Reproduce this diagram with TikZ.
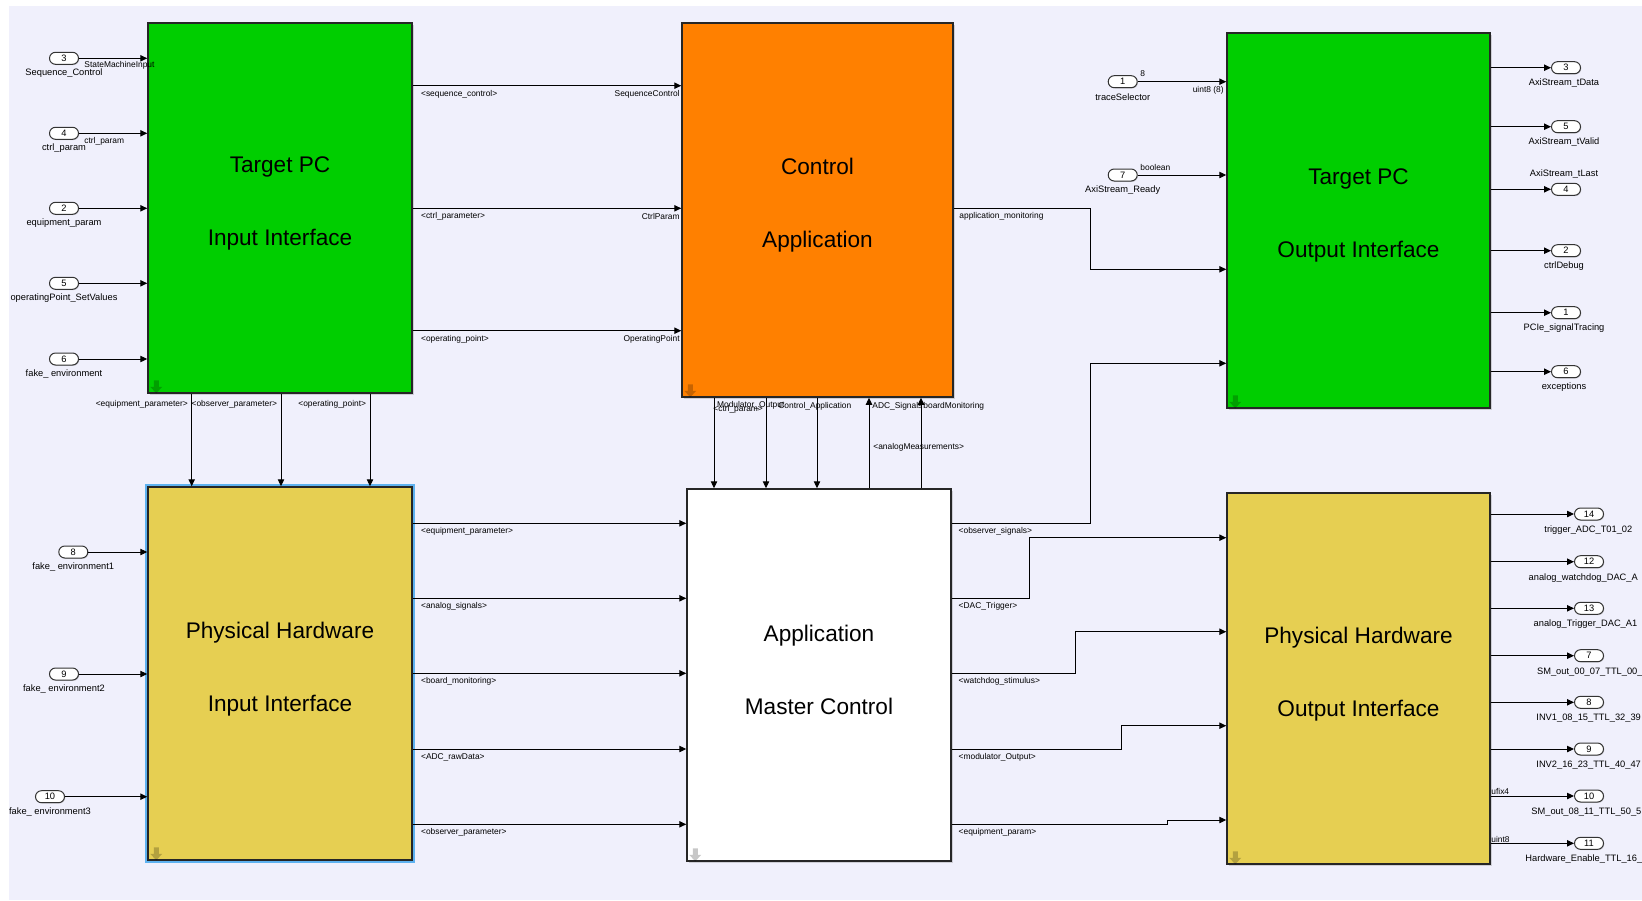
\documentclass[tikz,border=0pt]{standalone}
\usepackage{fontspec}
\setmainfont{Liberation Sans}
\usetikzlibrary{arrows.meta,calc,shadows}
\definecolor{canvas}{RGB}{240,240,252}
\definecolor{tpgreen}{RGB}{0,206,0}
\definecolor{caorange}{RGB}{255,128,0}
\definecolor{hwyellow}{RGB}{230,207,82}
\definecolor{selblue}{RGB}{94,178,240}
\tikzset{
  blk/.style     = {draw=black!85, line width=0.75pt, inner sep=0pt,
                    drop shadow={shadow xshift=1pt,shadow yshift=-1pt,opacity=.3}},
  blktxt/.style  = {align=center, font=\fontsize{11.3}{36.5}\selectfont, yshift=2.4pt},
  sig/.style     = {line width=0.5pt, -{Triangle[length=3.5pt,width=3.2pt]}},
  inport/.style  = {draw=black!80, fill=white, rounded corners=3pt, line width=0.5pt,
                    minimum width=14.5pt, minimum height=6pt, inner sep=0pt,
                    font=\fontsize{4.65}{5}\selectfont,
                    drop shadow={shadow xshift=0.4pt,shadow yshift=-0.4pt,opacity=.35}},
  portlab/.style = {inner sep=0pt, font=\fontsize{4.65}{5}\selectfont},
  siglab/.style  = {inner sep=0pt, font=\fontsize{4.2}{5}\selectfont},
  ssicon/.pic    = {\fill[black,fill opacity=.22] (-2.5,-6.5) -- (2.5,-6.5) -- (2.5,0) -- (6,0)
                    -- (0,6.5) -- (-6,0) -- (-2.5,0) -- cycle;},
}
\begin{document}
\begin{tikzpicture}[x=0.5pt,y=-0.5pt]
  \useasboundingbox (0,0) rectangle (1642,900);
  \clip (0,0) rectangle (1642,900);
  \fill[white] (0,0) rectangle (1642,900);
  \fill[canvas] (9,6) rectangle (1642,900);

  % blocks
  \node[blk, fill=tpgreen, minimum width=132pt, minimum height=185pt,
        label={[blktxt,yshift=-0.3pt]center:{Target PC\\Input Interface}}] (tpi) at (280,208) {};
  \node[blk, fill=caorange, minimum width=135.5pt, minimum height=187pt,
        label={[blktxt]center:{Control\\Application}}] (ca) at (817.5,210) {};
  \node[blk, fill=tpgreen, minimum width=131.5pt, minimum height=187.5pt,
        label={[blktxt]center:{Target PC\\Output Interface}}] (tpo) at (1358.5,220.5) {};
  \node[blk, fill=hwyellow, minimum width=132pt, minimum height=186.5pt,
        preaction={draw=selblue, line width=3pt},
        label={[blktxt]center:{Physical Hardware\\Input Interface}}] (phi) at (280,673.5) {};
  \node[blk, fill=white, minimum width=132pt, minimum height=186pt,
        label={[blktxt]center:{Application\\Master Control}}] (mc) at (819,675) {};
  \node[blk, fill=hwyellow, minimum width=131.5pt, minimum height=185.5pt,
        label={[blktxt]center:{Physical Hardware\\Output Interface}}] (pho) at (1358.5,678.5) {};
  \foreach \b in {tpi,ca,tpo,phi,mc,pho}
    \pic at ($(\b.south west)+(9,-7)$) {ssicon};

  % inputs of the target PC
  \foreach \n/\y/\lab [count=\i] in {3/58.3/Sequence\_Control, 4/133.3/ctrl\_param,
      2/208.3/equipment\_param, 5/283.3/operatingPoint\_SetValues, 6/359/fake\_ environment} {
    \node[inport] (in\i) at (64,\y) {\n};
    \node[portlab] at (64,\y+15) {\lab};
    \draw[sig] (in\i) -- (in\i -| tpi.west);
  }
  \node[siglab, anchor=west] at (84,65.7) {StateMachineInput};
  \node[siglab, anchor=west] at (84,141) {ctrl\_param};

  % inputs of the hardware
  \foreach \n/\x/\y/\lab [count=\i] in {8/73.3/552/fake\_ environment1,
      9/64/674/fake\_ environment2, 10/50/796.7/fake\_ environment3} {
    \node[inport] (fe\i) at (\x,\y) {\n};
    \node[portlab] at (\x,\y+15) {\lab};
    \draw[sig] (fe\i) -- (fe\i -| phi.west);
  }

  % target PC -> control
  \foreach \y/\src/\dst in {85.7/{<sequence\_control>}/SequenceControl,
      208.3/{<ctrl\_parameter>}/CtrlParam, 330.7/{<operating\_point>}/OperatingPoint} {
    \draw[sig] (tpi.east |- 0,\y) -- (ca.west |- 0,\y);
    \node[siglab, anchor=west] at (420.7,\y+8.4) {\src};
    \node[siglab, anchor=east] at (680,\y+8.4) {\dst};
  }

  % target PC -> hardware
  \foreach \x/\lab in {191.7/{<equipment\_parameter>}, 281/{<observer\_parameter>},
      370/{<operating\_point>}} {
    \draw[sig] (tpi.south -| \x,0) -- (phi.north -| \x,0);
    \node[siglab, anchor=east] at (\x-3.5,404.7) {\lab};
  }

  % control <-> master control
  \foreach \x in {714,766,817}
    \draw[sig] (ca.south -| \x,0) -- (mc.north -| \x,0);
  \foreach \x in {869,921}
    \draw[sig] (mc.north -| \x,0) -- (ca.south -| \x,0);
  \node[siglab, anchor=west] at (713,409) {<ctrl\_param>};
  \node[siglab, anchor=west] at (716.7,405.5) {Modulator\_Output};
  \node[siglab, anchor=west] at (778,406.5) {Control\_Application};
  \node[siglab, anchor=west] at (872,406) {ADC\_Signals};
  \node[siglab, anchor=west] at (923,406) {boardMonitoring};
  \node[siglab, anchor=west] at (873,447.7) {<analogMeasurements>};

  % hardware -> master control
  \foreach \y/\lab in {523.3/{<equipment\_parameter>}, 598.3/{<analog\_signals>},
      673.3/{<board\_monitoring>}, 749/{<ADC\_rawData>}, 824.3/{<observer\_parameter>}} {
    \draw[sig] (phi.east |- 0,\y) -- (mc.west |- 0,\y);
    \node[siglab, anchor=west] at (420.7,\y+8.4) {\lab};
  }

  % control -> target PC output
  \coordinate (am) at (1090.7,269.3);
  \draw[sig] (ca.east |- 0,208.3) -| (am) -- (am -| tpo.west);
  \node[siglab, anchor=west] at (959,216.7) {application\_monitoring};

  % master control -> outputs
  \foreach \y/\bx/\ty/\dst/\lab in {523.3/1090.7/363.3/tpo/{<observer\_signals>},
      598.3/1029.3/537.7/pho/{<DAC\_Trigger>}, 673.3/1075.7/631.7/pho/{<watchdog\_stimulus>},
      749/1121/725.7/pho/{<modulator\_Output>}, 824.3/1167.3/820/pho/{<equipment\_param>}} {
    \coordinate (bend) at (\bx,\ty);
    \draw[sig] (mc.east |- 0,\y) -| (bend) -- (bend -| \dst.west);
    \node[siglab, anchor=west] at (958.3,\y+8.4) {\lab};
  }

  % inputs of the target PC output
  \node[inport] (ts) at (1122.7,81.7) {1};
  \draw[sig] (ts) -- (ts -| tpo.west);
  \node[portlab] at (1122.7,96.7) {traceSelector};
  \node[siglab, anchor=west] at (1140,73.3) {8};
  \node[siglab, anchor=east] at (1224,90) {uint8 (8)};
  \node[inport] (ar) at (1122.7,175) {7};
  \draw[sig] (ar) -- (ar -| tpo.west);
  \node[portlab] at (1122.7,190) {AxiStream\_Ready};
  \node[siglab, anchor=west] at (1140,167.3) {boolean};

  % outputs of the target PC
  \foreach \n/\y/\lab/\dy [count=\i] in {3/67.7/AxiStream\_tData/15, 5/126.7/AxiStream\_tValid/15,
      4/189.3/AxiStream\_tLast/-15, 2/250.7/ctrlDebug/15, 1/312.7/PCIe\_signalTracing/15,
      6/371.7/exceptions/15} {
    \node[inport] (to\i) at (1566,\y) {\n};
    \draw[sig] (tpo.east |- to\i) -- (to\i);
    \node[portlab] at (1564,\y+\dy) {\lab};
  }

  % outputs of the hardware
  \foreach \n/\y/\lab/\lx [count=\i] in {14/514/trigger\_ADC\_T01\_02/1544,
      12/561.7/analog\_watchdog\_DAC\_A/1528.3, 13/608.3/analog\_Trigger\_DAC\_A1/1533.3,
      7/655.7/SM\_out\_00\_07\_TTL\_00\_0/1536.7, 8/702.3/INV1\_08\_15\_TTL\_32\_39/1536,
      9/749/INV2\_16\_23\_TTL\_40\_47/1536, 10/796/SM\_out\_08\_11\_TTL\_50\_5/1531,
      11/843.3/Hardware\_Enable\_TTL\_16\_/1525} {
    \node[inport] (ho\i) at (1589,\y) {\n};
    \draw[sig] (pho.east |- ho\i) -- (ho\i);
    \node[portlab, anchor=west] at (\lx,\y+16) {\lab};
  }
  \node[siglab, anchor=west] at (1491,791.7) {ufix4};
  \node[siglab, anchor=west] at (1491,839) {uint8};
\end{tikzpicture}
\end{document}
